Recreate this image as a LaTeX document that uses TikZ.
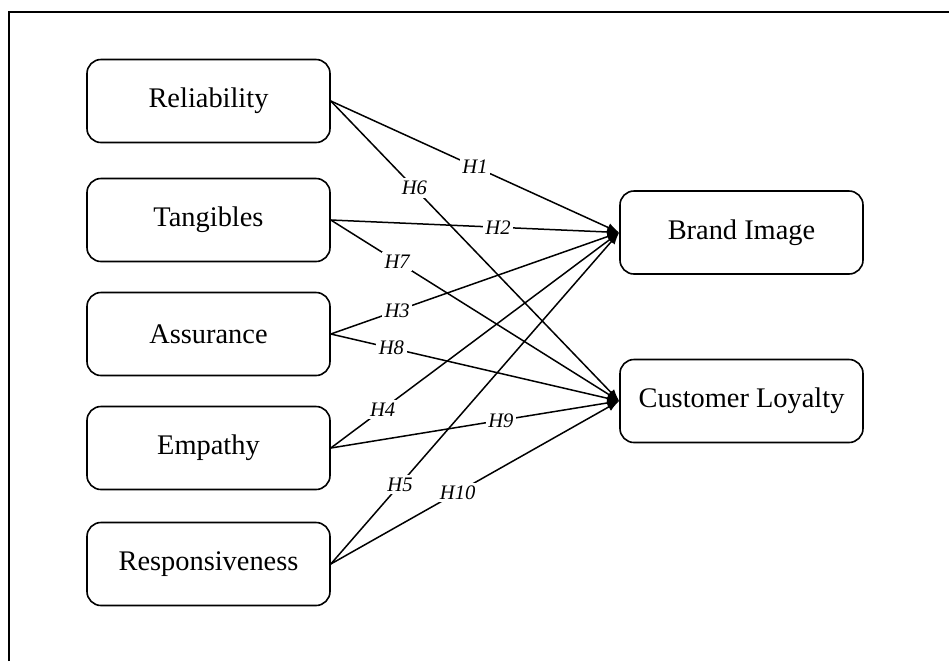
\documentclass[tikz,border=0pt]{standalone}
\usepackage{fontspec}
\setmainfont{Liberation Serif}
\usetikzlibrary{arrows.meta}
\usetikzlibrary{calc}

\begin{document}
\begin{tikzpicture}[x=0.5pt, y=-0.5pt,
  box/.style={draw, line width=0.8pt, rounded corners=7pt, minimum width=121.5pt, minimum height=41.5pt, font=\fontsize{14.2}{17}\selectfont},
  hyp/.style={fill=white, inner sep=1.3pt, font=\fontsize{10.3}{12}\selectfont\itshape},
  link/.style={line width=0.75pt, -{Latex[length=6pt,width=4.5pt]}}]
	 % Fix the page to the size of the reference
	 \useasboundingbox (0,0) rectangle (949,661);
	 \draw[line width=1pt] (9,661) -- (9,12) -- (949,12);

	 % Define the dimensions
	 \node[box] (rel) at (208.5,101) {Reliability};
	 \node[box] (tan) at (208.5,220) {Tangibles};
	 \node[box] (ass) at (208.5,334) {Assurance};
	 \node[box] (emp) at (208.5,448) {Empathy};
	 \node[box] (res) at (208.5,564) {Responsiveness};

	 % Define the outcomes
	 \node[box] (bi) at (741.5,232.5) {Brand Image};
	 \node[box] (cl) at (741.5,401) {Customer Loyalty};

	 % Draw the hypotheses
	 \foreach \src/\dst/\lab/\p in {rel/bi/H1/0.5, tan/bi/H2/0.58, ass/bi/H3/0.23, emp/bi/H4/0.18, res/bi/H5/0.24,
	   rel/cl/H6/0.29, tan/cl/H7/0.23, ass/cl/H8/0.21, emp/cl/H9/0.59, res/cl/H10/0.44} {
	   \draw[link] (\src.east) -- node[hyp, pos=\p] {\lab} (\dst.west);
	 }
\end{tikzpicture}
\end{document}
